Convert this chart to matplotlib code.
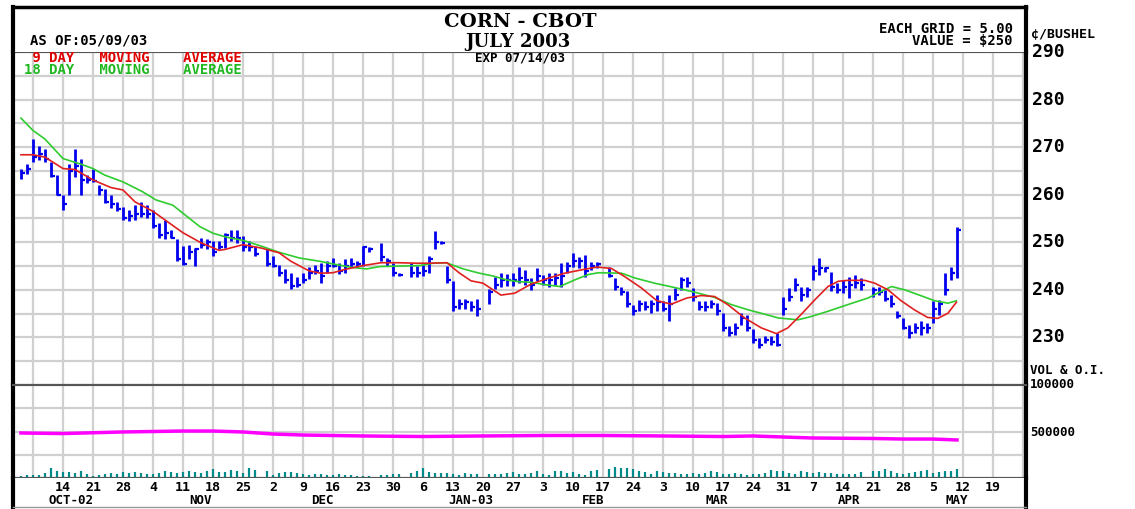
import numpy as np
import pandas as pd
import matplotlib
matplotlib.use('Agg')
import matplotlib.pyplot as plt
from matplotlib.transforms import blended_transform_factory

# trading days shown (CBOT closed on these)
holidays = ['2002-11-28', '2002-12-25', '2003-01-01', '2003-01-20', '2003-02-17', '2003-04-18']

highs = [265.5, 266.5, 271.7, 270.3, 269.7, 266.9, 264.1, 259.9, 266.5, 269.7,
         267.6, 264.1, 265.5, 262.0, 261.3, 259.9, 258.5, 257.5, 256.8, 257.8,
         258.5, 257.8, 256.8, 254.0, 254.7, 252.6, 250.6, 249.2, 249.5, 248.8,
         250.9, 250.6, 250.2, 250.2, 252.0, 252.6, 252.6, 251.3, 250.2, 249.2,
         248.5, 247.1, 245.3, 244.3, 243.6, 242.6, 243.6, 244.7, 245.3, 245.7,
         246.0, 246.7, 245.7, 246.4, 246.7, 246.0, 249.2, 249.0, 249.9, 246.7,
         245.7, 243.6, 245.7, 245.0, 245.3, 247.1, 252.3, 250.3, 245.0, 241.9,
         238.0, 238.0, 237.7, 238.0, 240.1, 242.6, 243.6, 243.3, 243.6, 244.7,
         244.2, 242.5, 244.5, 243.2, 243.5, 243.5, 245.6, 245.9, 247.7, 247.0,
         247.3, 245.9, 245.9, 244.9, 242.5, 240.7, 239.7, 236.9, 237.9, 237.6,
         237.9, 239.0, 237.6, 239.0, 240.4, 242.8, 242.8, 240.4, 237.6, 237.6,
         237.9, 237.2, 235.1, 232.4, 233.0, 235.1, 234.8, 231.7, 229.9, 230.3,
         230.3, 231.0, 238.6, 240.4, 242.5, 240.7, 240.7, 245.2, 246.6, 244.9,
         243.8, 241.4, 242.1, 242.8, 243.2, 242.5, 240.7, 240.7, 240.0, 239.0,
         235.5, 234.1, 232.7, 233.0, 233.4, 233.0, 237.6, 237.9, 243.5, 244.9,
         253.3]
lows = [263.3, 264.4, 266.9, 267.2, 266.9, 263.8, 259.9, 256.8, 259.9, 263.8,
        260.0, 262.4, 262.7, 260.0, 258.2, 257.2, 256.5, 254.7, 254.4, 254.7,
        255.4, 255.0, 253.0, 250.9, 250.6, 250.9, 246.0, 245.3, 246.4, 245.0,
        248.8, 248.5, 247.1, 248.5, 248.8, 250.2, 249.9, 248.1, 248.1, 247.1,
        245.0, 244.7, 242.9, 241.5, 240.1, 240.5, 241.5, 242.2, 243.3, 241.5,
        243.6, 244.7, 243.3, 243.6, 244.7, 244.7, 245.0, 248.0, 246.0, 245.0,
        242.9, 242.9, 242.6, 242.6, 242.9, 243.6, 248.5, 249.6, 241.5, 235.6,
        236.0, 236.0, 235.6, 234.6, 237.0, 240.1, 240.5, 240.8, 240.8, 241.5,
        241.1, 240.0, 241.8, 241.1, 240.7, 241.1, 240.7, 243.5, 244.9, 244.5,
        242.8, 244.2, 244.5, 242.8, 240.0, 239.0, 236.5, 234.8, 235.5, 235.8,
        235.1, 235.5, 235.5, 233.4, 237.9, 240.0, 240.7, 237.6, 235.8, 235.5,
        236.2, 234.8, 231.3, 230.3, 230.6, 232.7, 231.3, 228.9, 227.8, 228.9,
        228.5, 228.2, 234.8, 237.6, 239.7, 237.6, 238.6, 242.1, 243.2, 243.8,
        239.7, 239.3, 239.3, 238.3, 240.4, 240.0, 238.6, 239.0, 237.6, 236.5,
        234.1, 231.7, 229.9, 231.0, 230.6, 231.0, 233.0, 234.8, 239.0, 242.1,
        242.5]
closes = [264.5, 265.5, 268.0, 268.5, 267.5, 264.0, 260.0, 258.0, 265.0, 266.0,
          263.0, 263.0, 262.8, 261.0, 258.5, 258.0, 257.0, 255.0, 255.5, 256.0,
          256.0, 256.0, 253.5, 251.5, 252.0, 251.0, 246.5, 245.5, 248.0, 248.5,
          249.5, 250.0, 248.0, 249.0, 251.5, 251.0, 251.0, 249.0, 249.0, 247.5,
          245.5, 245.0, 243.5, 242.0, 240.8, 241.0, 242.0, 243.5, 244.0, 243.0,
          245.0, 245.0, 244.0, 245.0, 245.5, 245.5, 249.0, 248.5, 247.0, 246.0,
          243.5, 243.2, 243.5, 243.5, 244.0, 246.5, 250.0, 249.9, 242.0, 236.5,
          237.0, 237.5, 236.5, 236.0, 239.5, 241.0, 242.0, 242.0, 242.0, 242.5,
          242.0, 241.0, 243.0, 242.0, 242.0, 242.5, 243.0, 245.0, 246.0, 246.0,
          244.0, 245.0, 245.5, 243.0, 240.5, 239.5, 237.0, 235.5, 237.0, 236.5,
          237.0, 237.5, 236.0, 237.0, 239.0, 242.0, 241.5, 238.5, 236.5, 236.5,
          237.0, 235.5, 232.0, 231.0, 232.0, 234.0, 232.0, 229.5, 228.5, 229.5,
          229.0, 228.5, 236.0, 238.5, 241.0, 239.0, 240.0, 244.0, 244.5, 244.5,
          240.5, 240.0, 240.5, 241.0, 241.5, 241.0, 240.0, 239.5, 238.0, 237.0,
          234.5, 232.0, 231.0, 232.0, 232.0, 232.0, 236.0, 237.0, 240.0, 243.5,
          252.5]

# volume, thousands of contracts
volume = [25, 28, 30, 35, 55, 110, 70, 60, 65, 55,
          80, 40, 25, 35, 45, 50, 45, 60, 55, 65,
          50, 45, 40, 55, 70, 65, 50, 60, 75, 60,
          55, 70, 100, 65, 60, 85, 70, 55, 110, 90,
          80, 30, 55, 60, 65, 50, 40, 35, 45, 40,
          35, 30, 40, 35, 30, 25, 20, 25, 30, 35,
          40, 45, 55, 70, 105, 65, 55, 50, 50, 40,
          30, 55, 45, 40, 40, 45, 40, 50, 60, 45,
          40, 55, 70, 45, 35, 80, 70, 55, 60, 45,
          35, 80, 90, 100, 120, 110, 110, 100, 80, 60,
          45, 70, 60, 55, 50, 45, 40, 55, 45, 50,
          75, 60, 45, 40, 50, 45, 35, 40, 45, 55,
          85, 80, 70, 55, 40, 80, 65, 50, 60, 55,
          50, 45, 40, 40, 45, 60, 70, 80, 95, 70,
          55, 45, 50, 60, 80, 90, 50, 60, 75, 80,
          95]

# open interest, thousands
oi_days = [-2, 5, 15, 25, 30, 35, 40, 45, 55, 65, 75, 85, 95, 105, 115, 120, 125, 130, 140, 145, 150, 154]
oi_vals = [484, 478, 495, 505, 505, 495, 473, 462, 452, 446, 452, 457, 457, 452, 446, 452, 441, 430, 425, 419, 419, 409]

# moving averages (weekday index, price)
ma9_days = [-2, 0, 2, 5, 7, 10, 13, 15, 17, 20, 22, 25, 28, 31, 32, 35, 38, 41, 43, 46, 48, 50, 52,
            55, 58, 61, 64, 66, 69, 71, 73, 75, 78, 80.3, 83, 86, 88.6, 91.4, 94, 96.4, 98.6, 101.4,
            104, 106.4, 109, 111.4, 113.6, 115.8, 118.6, 121.4, 123.9, 125.8, 128, 130.3, 132.5,
            134.2, 135.8, 138.6, 140.3, 142.5, 144.7, 146.9, 149.1, 150.8, 152.5, 153.9]
ma9_vals = [268.4, 268.4, 267.9, 265.5, 265.3, 263.1, 261.5, 261.0, 258.5, 256.5, 254.7, 252.0, 249.9,
            248.3, 248.5, 249.5, 248.8, 247.8, 246.0, 244.0, 243.5, 243.6, 244.3, 245.1, 245.7, 245.7,
            245.6, 245.6, 245.7, 243.6, 241.9, 241.4, 238.9, 239.3, 241.2, 242.5, 243.5, 244.2, 244.8,
            244.5, 242.8, 240.4, 237.7, 237.0, 238.3, 238.8, 238.6, 236.9, 234.1, 232.0, 230.8, 232.0,
            234.8, 237.9, 240.7, 241.8, 242.0, 242.0, 241.4, 240.0, 237.7, 235.8, 234.2, 234.0, 235.1,
            237.4]
ma18_days = [-2, 0, 2, 5, 7.8, 10, 12, 15, 18.3, 20.5, 23.3, 25, 27.8, 30, 32.2, 35, 37.8, 41, 44.4,
             47.8, 50.6, 53.3, 55.6, 57.8, 61, 64.4, 66.7, 68.9, 71.7, 74.4, 76.7, 78.9, 81.1, 83,
             85.3, 87.8, 90.3, 92.5, 94.2, 98.1, 100.3, 103.6, 106.9, 110.3, 113.6, 116.4, 119.2,
             121.9, 124.2, 127.5, 129.7, 132.5, 135.8, 139.2, 141.4, 143.1, 145.3, 147.5, 150.3,
             152.5, 153.9]
ma18_vals = [276.1, 273.5, 271.7, 267.6, 266.5, 265.5, 264.1, 262.7, 260.6, 258.9, 257.8, 256.1, 253.3,
             251.9, 251.1, 250.4, 249.3, 247.9, 246.7, 246.0, 245.3, 244.7, 244.4, 244.9, 245.0, 245.1,
             245.6, 245.7, 244.4, 243.5, 242.9, 242.1, 241.7, 241.6, 241.1, 240.7, 242.1, 243.2, 243.6,
             243.5, 242.5, 241.4, 240.5, 239.5, 238.4, 236.9, 235.8, 234.9, 234.1, 233.7, 234.4, 235.5,
             236.9, 238.3, 239.7, 240.7, 240.0, 239.0, 237.7, 237.2, 237.7]

month_names = ['OCT-02', 'NOV', 'DEC', 'JAN-03', 'FEB', 'MAR', 'APR', 'MAY']
month_pos = [6.3, 28, 48.3, 73, 93.3, 114, 136, 154]

W, H = 1135, 509
MONO = 'DejaVu Sans Mono'
SERIF = 'DejaVu Serif'


def frac(x0, y0, x1, y1):
    return [x0 / W, 1 - y1 / H, (x1 - x0) / W, (y1 - y0) / H]


def ftext(x, y, s, **kw):
    kw.setdefault('family', MONO)
    kw.setdefault('weight', 'bold')
    fig.text(x / W, 1 - y / H, s, **kw)


dates = pd.bdate_range('2002-10-03', '2003-05-09')
dates = dates[~dates.isin(pd.to_datetime(holidays))]
xd = np.busday_count('2002-10-07', dates.values.astype('datetime64[D]'))

fig = plt.figure(figsize=(W / 100, H / 100), dpi=100)
XLIM = (-3.33, 165.5)

ax = fig.add_axes(frac(13, 52, 1026, 385))
axv = fig.add_axes(frac(13, 385, 1026, 478))
axl = fig.add_axes(frac(13, 478, 1026, 507))
axh = fig.add_axes(frac(13, 7, 1026, 52))

for a in (ax, axv, axl, axh):
    a.set_xlim(*XLIM)
    a.tick_params(left=False, bottom=False, labelleft=False, labelbottom=False)
    a.spines['left'].set_linewidth(3)
    a.spines['right'].set_linewidth(3)
    for s in ('top', 'bottom'):
        a.spines[s].set_color('#555555')
        a.spines[s].set_linewidth(1.5)

axh.set_xticks([])
axh.set_yticks([])
axh.spines['top'].set_color('black')
axh.spines['top'].set_linewidth(2.5)
axh.spines['bottom'].set_visible(False)
axl.set_yticks([])
axl.set_xticks([])
axl.spines['top'].set_visible(False)
axl.spines['bottom'].set_color('#999999')
axl.spines['bottom'].set_linewidth(1)

# price panel
ax.set_ylim(220, 290)
ax.set_xticks(np.arange(0, 166, 5))
ax.set_yticks(np.arange(220, 291, 5))
ax.grid(True, color='#d0d0d0', lw=1.6)
ax.set_axisbelow(True)

ax.vlines(xd, lows, highs, color='#0000ee', lw=2.0)
ax.hlines(closes, xd, xd + 0.6, color='#0000ee', lw=1.6)
ax.plot(ma18_days, ma18_vals, color='#2ecc2e', lw=1.2)
ax.plot(ma9_days, ma9_vals, color='#e02020', lw=1.2)

tr = blended_transform_factory(ax.transAxes, ax.transData)
for p in range(230, 291, 10):
    ax.text(1.006, p, str(p), transform=tr, family=MONO, weight='bold', fontsize=13,
            va='center', ha='left', clip_on=False)

# volume / open interest panel
axv.set_ylim(0, 1000)
axv.set_xticks(np.arange(0, 166, 5))
axv.set_yticks(np.arange(0, 1001, 250))
axv.grid(True, color='#d0d0d0', lw=1.6)
axv.set_axisbelow(True)
axv.vlines(xd, 0, volume, color='#008b8b', lw=1.6)
axv.plot(oi_days, oi_vals, color='#ff00ff', lw=2.5)

# date labels
mondays = pd.date_range('2002-10-14', '2003-05-19', freq='W-MON')
mpos = np.busday_count('2002-10-07', mondays.values.astype('datetime64[D]'))
for p, d in zip(mpos, mondays):
    axl.text(p, 0.68, str(d.day), family=MONO, weight='bold', fontsize=9.5,
             ha='center', va='center')
for p, m in zip(month_pos, month_names):
    axl.text(p, 0.24, m, family=MONO, weight='bold', fontsize=9,
             ha='center', va='center')

# header texts
ftext(520, 22, 'CORN - CBOT', family=SERIF, fontsize=14, ha='center', va='center')
ftext(518, 42, 'JULY 2003', family=SERIF, fontsize=13, ha='center', va='center')
ftext(520, 58, 'EXP 07/14/03', fontsize=9, ha='center', va='center')
ftext(30, 41, 'AS OF:05/09/03', fontsize=10, ha='left', va='center')
ftext(24, 58, ' 9 DAY   MOVING    AVERAGE', fontsize=10, ha='left', va='center', color='#e00000')
ftext(24, 70, '18 DAY   MOVING    AVERAGE', fontsize=10, ha='left', va='center', color='#1fb81f')
ftext(1013, 29, 'EACH GRID = 5.00', fontsize=10, ha='right', va='center')
ftext(1013, 41, 'VALUE = $250', fontsize=10, ha='right', va='center')
ftext(1031, 35, '\u00a2/BUSHEL', fontsize=9.5, ha='left', va='center')
ftext(1030, 370, 'VOL & O.I.', fontsize=9, ha='left', va='center')
ftext(1030, 384, '100000', fontsize=9, ha='left', va='center')
ftext(1030, 432, '500000', fontsize=9, ha='left', va='center')

fig.savefig('out.png', dpi=100)
